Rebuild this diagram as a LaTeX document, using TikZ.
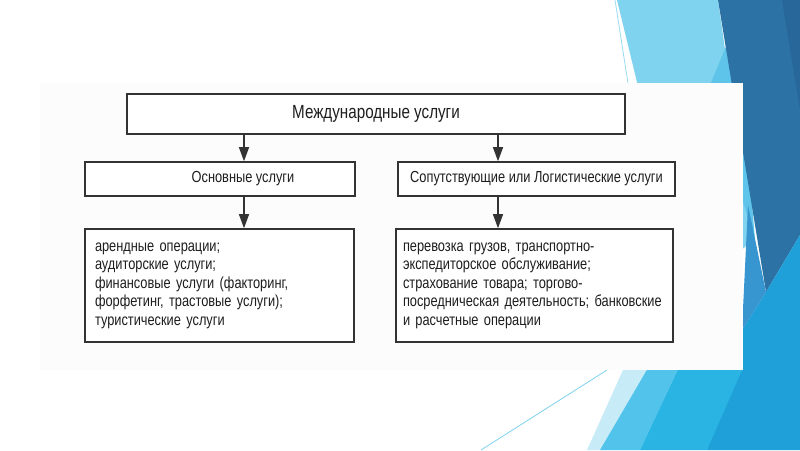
\documentclass[tikz,border=0pt]{standalone}
\usepackage{fontspec}
\setmainfont[FakeStretch=0.8]{Liberation Sans}
\usepackage{xcolor}
\usepackage{tikz}
\usetikzlibrary{arrows.meta,positioning}

\definecolor{paleblue}{HTML}{C8EBF8}
\definecolor{lightblue}{HTML}{7FD3EE}
\definecolor{cyanblue}{HTML}{5EC4EA}
\definecolor{midcyan}{HTML}{52C4EB}
\definecolor{brightblue}{HTML}{2AB4E4}
\definecolor{seablue}{HTML}{1FA0D8}
\definecolor{steelblue}{HTML}{3795CF}
\definecolor{darkblue}{HTML}{2C72A5}
\definecolor{deepblue}{HTML}{28679A}
\definecolor{sheet}{HTML}{FCFCFC}
\definecolor{ink}{HTML}{1E1E1E}
\definecolor{frame}{HTML}{333333}

\begin{document}
\begin{tikzpicture}[x=1pt,y=-1pt,
    box/.style={draw=frame, line width=1.6pt, fill=white, text=ink, inner sep=0pt},
    listbox/.style={box, align=left},
    arr/.style={draw=frame, line width=1.3pt, -{Triangle[width=10pt,length=14pt]}}]
    \useasboundingbox[fill=white] (0,0) rectangle (800,450);
    % slide background
    \draw[lightblue!80, line width=0.8pt] (615,0) -- (640,160); % thin line top
    \fill[lightblue] (617,0) -- (718,0) -- (752,240) -- (690,300) -- cycle;
    \fill[cyanblue] (737,20) -- (755,240) -- (708,90) -- cycle;
    \fill[darkblue] (718,0) -- (800,0) -- (800,235) -- (766,292) -- cycle;
    \fill[deepblue] (782,0) -- (800,0) -- (800,110) -- cycle;
    \fill[seablue] (707,450) -- (742,330) -- (766,292) -- (800,235) -- (800,450) -- cycle;
    \fill[steelblue] (748,205) -- (766,292) -- (742,330) -- cycle;
    \fill[paleblue] (587,450) -- (677,250) -- (717,250) -- (600,450) -- cycle;
    \fill[midcyan] (600,450) -- (717,250) -- (734,250) -- (640,450) -- cycle;
    \fill[brightblue] (640,450) -- (734,250) -- (742,250) -- (742,370) -- (707,450) -- cycle;
    \draw[lightblue, line width=0.8pt] (607,370) -- (481,450); % thin line bottom
    \fill[sheet] (40,83) rectangle (743,370); % pasted scheme

    % boxes
    \node[box, minimum width=498pt, minimum height=40pt,
          font=\fontsize{19}{21}\selectfont] (services) at (376,114) {Международные услуги};
    \node[box, minimum width=270pt, minimum height=34pt,
          font=\fontsize{16}{18}\selectfont] (basic) at (220,179) {\hspace*{46pt}Основные услуги};
    \node[box, minimum width=277pt, minimum height=34pt,
          font=\fontsize{16}{18}\selectfont] (logist) at (536.5,179) {Сопутствующие или Логистические услуги};
    \node[listbox, inner xsep=10pt, text width=249pt, minimum height=113pt,
          font=\fontsize{16}{18.5}\selectfont] (basicList) at (219.5,285.5)
          {арендные операции;\\аудиторские услуги;\\финансовые услуги (факторинг,\\форфетинг, трастовые услуги);\\туристические услуги};
    \node[listbox, inner xsep=7pt, text width=263pt, minimum height=113pt,
          font=\fontsize{16}{18.5}\selectfont] (logistList) at (534.5,285.5)
          {перевозка грузов, транспортно-\\экспедиторское обслуживание;\\страхование товара; торгово-\\посредническая деятельность; банковские\\и расчетные операции};

    % arrows
    \coordinate (aL) at (244,0);
    \coordinate (aR) at (498,0);
    \draw[arr] (services.south -| aL) -- (basic.north -| aL);
    \draw[arr] (services.south -| aR) -- (logist.north -| aR);
    \draw[arr] (basic.south -| aL) -- (basicList.north -| aL);
    \draw[arr] (logist.south -| aR) -- (logistList.north -| aR);
\end{tikzpicture}
\end{document}
